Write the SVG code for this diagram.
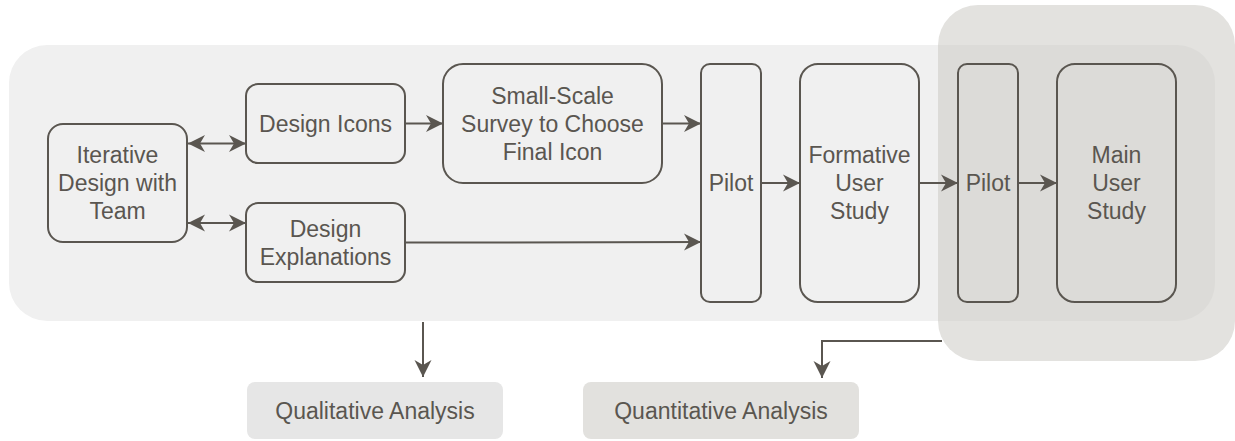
<svg xmlns="http://www.w3.org/2000/svg" width="1235" height="441" viewBox="0 0 1235 441">
<style>
.node{fill:none;stroke:#5a5650;stroke-width:2}
.t{font-family:"Liberation Sans",Arial,sans-serif;font-size:23px;fill:#5a5650;text-anchor:middle}
.c{fill:none;stroke:#5a5650;stroke-width:2}
</style>
<defs>
<marker id="arr" markerUnits="userSpaceOnUse" markerWidth="18" markerHeight="18" viewBox="0 0 18 18" refX="17" refY="9" orient="auto-start-reverse">
<path d="M0,0.5 L17,9 L0,17.5 L5,9 Z" fill="#5a5650"/>
</marker>
<clipPath id="darkclip"><rect x="938" y="5" width="297" height="356" rx="40"/></clipPath>
</defs>
<g id="containers">
<rect id="group-design" x="9" y="45" width="1206" height="276" rx="38" fill="#f0f0f0"/>
<rect id="group-main" x="938" y="5" width="297" height="356" rx="40" fill="#e3e2df"/>
<rect x="9" y="45" width="1206" height="276" rx="38" fill="#dcdbd8" clip-path="url(#darkclip)"/>
</g>
<g id="connectors">
<line class="c" x1="188" y1="143.5" x2="246" y2="143.5" marker-start="url(#arr)" marker-end="url(#arr)"/>
<line class="c" x1="188" y1="223" x2="246" y2="223" marker-start="url(#arr)" marker-end="url(#arr)"/>
<line class="c" x1="405" y1="123.5" x2="443" y2="123.5" marker-end="url(#arr)"/>
<line class="c" x1="662" y1="123.5" x2="701" y2="123.5" marker-end="url(#arr)"/>
<path class="c" d="M405,242.5 C550,243 600,242 701,242" marker-end="url(#arr)"/>
<line class="c" x1="761" y1="183" x2="800" y2="183" marker-end="url(#arr)"/>
<line class="c" x1="919" y1="183" x2="958" y2="183" marker-end="url(#arr)"/>
<line class="c" x1="1018" y1="183" x2="1057" y2="183" marker-end="url(#arr)"/>
<line class="c" x1="423" y1="322" x2="423" y2="377" marker-end="url(#arr)"/>
<path class="c" d="M942,341 L822,341 L822,378" marker-end="url(#arr)"/>
</g>
<g id="iterative">
<rect class="node" x="48" y="124" width="139" height="118" rx="15"/>
<text class="t" x="117.5" y="163">Iterative</text>
<text class="t" x="117.5" y="191">Design with</text>
<text class="t" x="117.5" y="219">Team</text>
</g>
<g id="design-icons">
<rect class="node" x="246" y="84" width="159" height="79" rx="12"/>
<text class="t" x="325.5" y="131.5">Design Icons</text>
</g>
<g id="design-explanations">
<rect class="node" x="246" y="203" width="159" height="79" rx="12"/>
<text class="t" x="325.5" y="236.5">Design</text>
<text class="t" x="325.5" y="264.5">Explanations</text>
</g>
<g id="survey">
<rect class="node" x="443" y="64" width="219" height="119" rx="20"/>
<text class="t" x="552.5" y="103.5">Small-Scale</text>
<text class="t" x="552.5" y="131.5">Survey to Choose</text>
<text class="t" x="552.5" y="159.5">Final Icon</text>
</g>
<g id="pilot-1">
<rect class="node" x="701" y="64" width="60" height="238" rx="9"/>
<text class="t" x="731" y="191">Pilot</text>
</g>
<g id="formative">
<rect class="node" x="800" y="64" width="119" height="238" rx="18"/>
<text class="t" x="859.5" y="163">Formative</text>
<text class="t" x="859.5" y="191">User</text>
<text class="t" x="859.5" y="219">Study</text>
</g>
<g id="pilot-2">
<rect class="node" x="958" y="64" width="60" height="238" rx="9"/>
<text class="t" x="988" y="191">Pilot</text>
</g>
<g id="main-study">
<rect class="node" x="1057" y="64" width="119" height="238" rx="18"/>
<text class="t" x="1116.5" y="163">Main</text>
<text class="t" x="1116.5" y="191">User</text>
<text class="t" x="1116.5" y="219">Study</text>
</g>
<g id="qualitative">
<rect x="247" y="382" width="256" height="57" rx="8" fill="#e6e6e6"/>
<text class="t" x="375" y="418.5">Qualitative Analysis</text>
</g>
<g id="quantitative">
<rect x="583" y="382" width="276" height="57" rx="8" fill="#e2e1de"/>
<text class="t" x="721" y="418.5">Quantitative Analysis</text>
</g>
</svg>
